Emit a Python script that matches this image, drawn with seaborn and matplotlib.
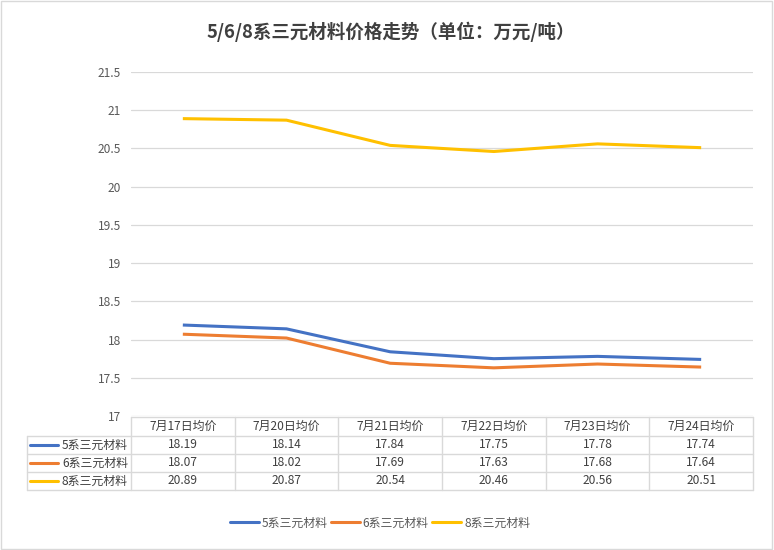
import matplotlib
matplotlib.use("Agg")
import matplotlib.pyplot as plt
import matplotlib.transforms as mtransforms
from matplotlib.lines import Line2D
import seaborn as sns
import pandas as pd

categories = ["7月17日均价", "7月20日均价", "7月21日均价", "7月22日均价", "7月23日均价", "7月24日均价"]
series_names = ["5系三元材料", "6系三元材料", "8系三元材料"]
s5 = [18.19, 18.14, 17.84, 17.75, 17.78, 17.74]
s6 = [18.07, 18.02, 17.69, 17.63, 17.68, 17.64]
s8 = [20.89, 20.87, 20.54, 20.46, 20.56, 20.51]
yticks = [17, 17.5, 18, 18.5, 19, 19.5, 20, 20.5, 21, 21.5]
title = "5/6/8系三元材料价格走势（单位：万元/吨）"
colors = ["#4472C4", "#ED7D31", "#FFC000"]

sns.set_theme(style="white")
plt.rcParams['font.family'] = ['Noto Sans CJK SC', 'DejaVu Sans']

W, H = 774, 550
fig = plt.figure(figsize=(W / 100, H / 100), dpi=100)

def fx(px):
    return px / W

def fy(py):
    return 1 - py / H

L, R, T, B = 131, 753, 72, 416
ax = fig.add_axes([fx(L), fy(B), fx(R) - fx(L), fy(T) - fy(B)])

rows = []
for name, vals in zip(series_names, [s5, s6, s8]):
    for i, v in enumerate(vals):
        rows.append({"x": i, "value": v, "series": name})
df = pd.DataFrame(rows)

sns.lineplot(data=df, x="x", y="value", hue="series", palette=colors,
             linewidth=2.2, ax=ax, legend=False, solid_capstyle="butt")

ax.set_xlim(-0.5, len(categories) - 0.5)
ax.set_ylim(17, 21.5)
ax.set_yticks(yticks)
ax.set_yticklabels([f"{t:g}" for t in yticks], fontsize=8.6, color="#595959")
ax.tick_params(axis="y", length=0, pad=7)
ax.set_xticks([])
ax.set_xlabel("")
ax.set_ylabel("")
ax.grid(axis="y", color="#D9D9D9", linewidth=0.9)
for sp in ax.spines.values():
    sp.set_visible(False)

# data table below the plot
grid_c = "#D9D9D9"
txt_c = "#404040"
tb = mtransforms.blended_transform_factory(ax.transData, fig.transFigure)
row_y = [417, 436, 454, 472, 490]
n = len(categories)
fig.add_artist(Line2D([fx(L), fx(R)], [fy(row_y[0])] * 2, color=grid_c, lw=1.0, transform=fig.transFigure))
for yy in row_y[1:]:
    fig.add_artist(Line2D([fx(27), fx(R)], [fy(yy)] * 2, color=grid_c, lw=1.0, transform=fig.transFigure))
for k in range(n + 1):
    fig.add_artist(Line2D([k - 0.5, k - 0.5], [fy(row_y[0]), fy(row_y[-1])], color=grid_c, lw=1.0, transform=tb))
fig.add_artist(Line2D([fx(27), fx(27)], [fy(row_y[1]), fy(row_y[-1])], color=grid_c, lw=1.0, transform=fig.transFigure))

for i, c in enumerate(categories):
    fig.text(i, fy((row_y[0] + row_y[1]) / 2), c, transform=tb, ha="center", va="center",
             fontsize=8.6, color=txt_c)
for r, (name, vals, col) in enumerate(zip(series_names, [s5, s6, s8], colors)):
    yc = fy((row_y[r + 1] + row_y[r + 2]) / 2)
    fig.add_artist(Line2D([fx(30), fx(58)], [yc, yc], color=col, lw=2.2, transform=fig.transFigure))
    fig.text(fx(62), yc, name, ha="left", va="center", fontsize=8.6, color=txt_c)
    for i, v in enumerate(vals):
        fig.text(i, yc, f"{v:.2f}", transform=tb, ha="center", va="center", fontsize=8.6, color=txt_c)

# legend
handles = [Line2D([], [], color=c, lw=2.2) for c in colors]
fig.legend(handles, series_names, loc="center", bbox_to_anchor=(fx(380), fy(523)), ncol=3,
           frameon=False, fontsize=8.6, handlelength=2.4, handletextpad=0.25, columnspacing=0.3,
           labelcolor="#595959")

fig.text(fx(391), fy(32), title, ha="center", va="center", fontsize=13.3, fontweight="bold", color="#404040")

# outer border
fig.add_artist(plt.Rectangle((0.001, 0.001), 0.997, 0.997, fill=False, edgecolor="#D9D9D9",
                             lw=1.0, transform=fig.transFigure))

fig.savefig("out.png", dpi=100)
